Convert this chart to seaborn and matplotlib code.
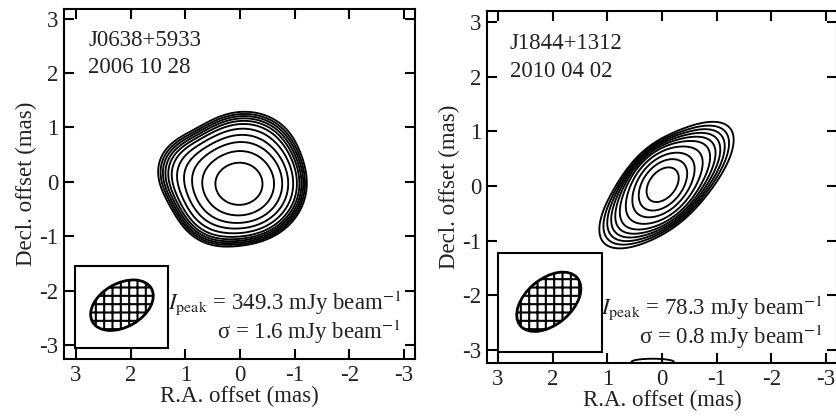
import numpy as np
import matplotlib
matplotlib.use("Agg")
import matplotlib.pyplot as plt
import seaborn as sns
from matplotlib.patches import Ellipse, Rectangle

# ==========================================================
# DATA
# ==========================================================

names = ["J0638+5933", "J1844+1312"]
dates = ["2006 10 28", "2010 04 02"]
peaks = [349.3, 78.3]      # mJy/beam
sigmas = [1.6, 0.8]        # mJy/beam

# gaussian components of each source model (mas, mJy/beam, deg)
left_amp = [318.0, 26.0, 22.0, 12.0]
left_x0 = [0.0, 0.75, -0.10, 0.55]
left_y0 = [-0.05, 0.15, 0.65, -0.60]
left_sa = [0.42, 0.40, 0.45, 0.35]
left_sb = [0.38, 0.35, 0.35, 0.30]
left_ang = [0.0, 20.0, 0.0, 45.0]

right_amp = [50.0, 18.0, 8.0, 2.7]
right_x0 = [0.0, -0.04, -0.10, 0.17]
right_y0 = [0.03, 0.02, 0.02, -3.22]
right_sa = [0.32, 0.55, 0.95, 0.80]
right_sb = [0.23, 0.28, 0.36, 0.12]
right_ang = [125.0, 135.0, 138.0, 0.0]

# contour levels (mJy/beam)
left_levels = [4.8, 6.0, 7.4, 9.2, 11.6, 15.2, 22.4, 36.0, 60.0, 108.0, 200.0]
right_levels = [2.4, 3.0, 3.7, 4.6, 5.8, 7.6, 11.2, 18.0, 29.0, 48.0]

# restoring beams: centre x, centre y, major, minor, angle on screen
beam_x = [2.16, 2.07]
beam_y = [-2.27, -2.12]
beam_maj = [1.24, 1.36]
beam_min = [0.80, 0.84]
beam_pa = [30.0, 40.0]

# beam boxes: x0, x1, y0, y1
box_x = [(1.32, 3.02), (1.10, 3.00)]
box_y = [(-3.06, -1.55), (-3.03, -1.22)]

ticks = [-3, -2, -1, 0, 1, 2, 3]

# ==========================================================
# STYLE
# ==========================================================

sns.set_theme(style="ticks")
plt.rcParams["font.family"] = ["Liberation Serif", "DejaVu Serif"]
plt.rcParams["mathtext.fontset"] = "stix"
plt.rcParams["axes.unicode_minus"] = False
plt.rcParams["hatch.linewidth"] = 1.5
plt.rcParams["hatch.color"] = "black"

txt = "#222222"
fs = 16.5


def model(X, Y, amp, x0, y0, sa, sb, ang):
    Z = np.zeros_like(X)
    for a, cx, cy, s1, s2, t in zip(amp, x0, y0, sa, sb, ang):
        t = np.radians(t)
        dx = X - cx
        dy = Y - cy
        u = dx * np.cos(t) + dy * np.sin(t)
        v = -dx * np.sin(t) + dy * np.cos(t)
        Z += a * np.exp(-0.5 * (u**2 / s1**2 + v**2 / s2**2))
    return Z


g = np.linspace(-3.6, 3.6, 721)
X, Y = np.meshgrid(g, g)

fields = [
    model(X, Y, left_amp, left_x0, left_y0, left_sa, left_sb, left_ang),
    model(X, Y, right_amp, right_x0, right_y0, right_sa, right_sb, right_ang),
]
levels = [left_levels, right_levels]

fig = plt.figure(figsize=(8.36, 4.18), dpi=100)

positions = [
    [64 / 836, 59 / 418, 351 / 836, 350 / 418],
    [487 / 836, 55 / 418, 350 / 836, 352 / 418],
]
xlims = [(3.22, -3.2), (3.2, -3.2)]
ylims = [(-3.26, 3.18), (-3.24, 3.2)]

for i in range(2):

    ax = fig.add_axes(positions[i])

    ax.contour(X, Y, fields[i], levels=levels[i],
               colors="black", linewidths=1.35)

    ax.add_patch(Rectangle((box_x[i][0], box_y[i][0]),
                           box_x[i][1] - box_x[i][0],
                           box_y[i][1] - box_y[i][0],
                           fill=False, edgecolor="black", lw=1.5, zorder=3))

    ax.add_patch(Ellipse((beam_x[i], beam_y[i]), beam_maj[i], beam_min[i],
                         angle=-beam_pa[i], facecolor="white",
                         edgecolor="black", hatch="++", lw=2, zorder=4))

    ax.text(2.78, 2.6, names[i], fontsize=fs, color=txt, va="center")
    ax.text(2.78, 2.1, dates[i], fontsize=fs, color=txt, va="center")

    ax.text(-2.95, -2.22,
            r"$I_{\rm peak}$ = " + f"{peaks[i]} mJy beam" + r"$^{-1}$",
            fontsize=fs, color=txt, ha="right", va="center")
    ax.text(-2.95, -2.76,
            "\u03c3 = " + f"{sigmas[i]} mJy beam" + r"$^{-1}$",
            fontsize=fs, color=txt, ha="right", va="center")

    ax.set_xlim(*xlims[i])
    ax.set_ylim(*ylims[i])
    ax.set_xticks(ticks)
    ax.set_yticks(ticks)
    ax.tick_params(direction="in", length=7, width=1.5, top=True, right=True,
                   labelsize=fs, colors="black", labelcolor=txt, pad=4)
    for s in ax.spines.values():
        s.set_linewidth(1.5)
        s.set_color("black")

    ax.set_xlabel("R.A. offset (mas)", fontsize=fs, color=txt, labelpad=0)
    ax.set_ylabel("Decl. offset (mas)", fontsize=fs, color=txt, labelpad=2)

fig.savefig("out.png", dpi=100)
